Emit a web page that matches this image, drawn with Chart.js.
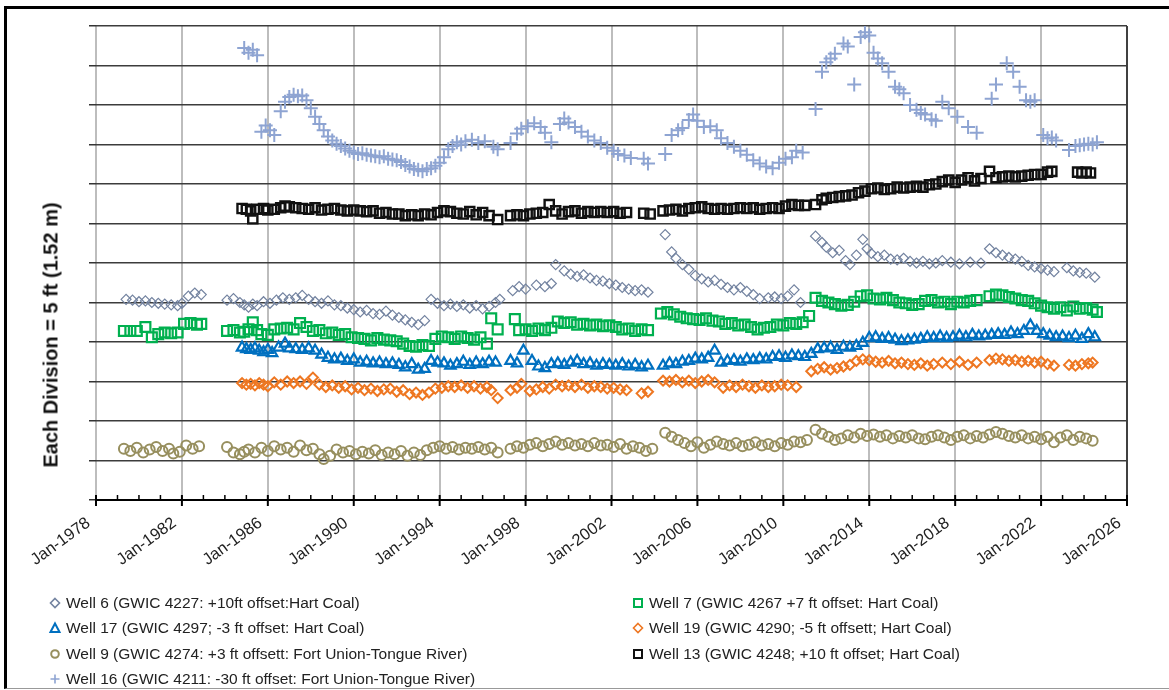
<!DOCTYPE html>
<html lang="en">
<head>
    <meta charset="UTF-8">
    <title>Well hydrographs - Hart Coal and Fort Union-Tongue River</title>
    <script src="https://cdn.jsdelivr.net/npm/chart.js"></script>
    <style>
        body {
            margin: 0;
            background: #fff;
            font-family: 'Liberation Sans', Arial, sans-serif;
            overflow: hidden;
        }

        .frame {
            position: absolute;
            left: 4px;
            top: 6px;
            width: 1180px;
            height: 679px;
            border-left: 3px solid #000;
            border-top: 3px solid #000;
            border-bottom: 1px solid #999;
        }

        .chart-box {
            position: absolute;
            left: 0;
            top: 0;
            width: 1169px;
            height: 690px;
        }

        .y-title {
            position: absolute;
            left: 51px;
            top: 335px;
            transform: translate(-50%, -50%) rotate(-90deg);
            font-weight: bold;
            font-size: 20px;
            white-space: nowrap;
            color: #111;
        }

        .legend {
            position: absolute;
            left: 48px;
            top: 590px;
            display: grid;
            grid-template-columns: 583px auto;
            grid-auto-rows: 25.5px;
            font-size: 15.5px;
            color: #222;
        }

        .legend-item {
            display: flex;
            align-items: center;
            white-space: nowrap;
        }

        .legend-item svg {
            width: 14px;
            height: 14px;
            margin-right: 4px;
        }
    </style>
</head>
<body>
    <div class="frame"></div>
    <div class="chart-box">
        <canvas id="wellChart"></canvas>
    </div>
    <div class="y-title">Each Division = 5 ft (1.52 m)</div>
    <div class="legend" id="legend"></div>

    <script>
        // x axis: decimal years, labelled every 4 years
        const tickYears = [1978, 1982, 1986, 1990, 1994, 1998, 2002, 2006, 2010, 2014, 2018, 2022, 2026];

        // Well 6 (gray diamonds)
        const w6Years = [1979.4, 1979.7, 1980.0, 1980.3, 1980.6, 1980.9, 1981.2, 1981.5, 1981.8, 1982.0, 1982.3, 1982.6, 1982.9,
            1984.1, 1984.4, 1984.7, 1984.9, 1985.1, 1985.3, 1985.5, 1985.8, 1986.1, 1986.4, 1986.7, 1987.0, 1987.3, 1987.6, 1987.9,
            1988.2, 1988.5, 1988.8, 1989.1, 1989.4, 1989.7, 1990.0, 1990.3, 1990.6, 1990.9, 1991.2, 1991.5, 1991.8, 1992.1, 1992.4,
            1992.7, 1993.0, 1993.3, 1993.6, 1993.9, 1994.2, 1994.5, 1994.8, 1995.1, 1995.4, 1995.7, 1996.0, 1996.3, 1996.6, 1996.8,
            1997.4, 1997.7, 1998.0, 1998.5, 1998.9, 1999.2, 1999.4, 1999.8, 2000.1, 2000.4, 2000.7, 2001.0, 2001.3, 2001.6, 2001.9,
            2002.2, 2002.5, 2002.8, 2003.1, 2003.4, 2003.7, 2004.5, 2004.8, 2005.0, 2005.3, 2005.6, 2005.9, 2006.2, 2006.5, 2006.8,
            2007.1, 2007.4, 2007.7, 2008.0, 2008.3, 2008.6, 2008.9, 2009.3, 2009.6, 2009.9, 2010.2, 2010.5, 2010.8, 2011.5, 2011.8,
            2012.0, 2012.3, 2012.6, 2012.9, 2013.1, 2013.4, 2013.7, 2013.9, 2014.1, 2014.4, 2014.7, 2015.0, 2015.3, 2015.6, 2015.9,
            2016.2, 2016.5, 2016.8, 2017.1, 2017.4, 2017.8, 2018.2, 2018.7, 2019.2, 2019.6, 2019.9, 2020.2, 2020.5, 2020.8, 2021.1,
            2021.4, 2021.7, 2022.0, 2022.3, 2022.6, 2023.2, 2023.5, 2023.8, 2024.1, 2024.5];
        const w6Ft = [25.4, 25.3, 25.1, 25.2, 25.0, 24.9, 24.8, 24.7, 24.6, 24.9, 25.8, 26.2, 26.0,
            25.3, 25.5, 25.0, 24.7, 24.4, 24.8, 24.6, 25.1, 24.9, 25.3, 25.6, 25.4, 25.6, 25.9, 25.4,
            25.1, 24.9, 25.2, 24.7, 24.6, 24.3, 24.1, 23.8, 24.0, 23.6, 23.5, 23.9, 23.4, 23.1, 22.8,
            22.5, 22.2, 22.7, 25.4, 24.9, 24.6, 24.8, 24.5, 24.7, 24.3, 24.6, 24.2, 24.5, 25.0, 25.4,
            26.5, 27.0, 26.7, 27.2, 27.0, 27.4, 29.8, 29.0, 28.6, 28.3, 28.5, 28.1, 27.8, 27.7, 27.4,
            27.2, 26.9, 26.7, 26.5, 26.6, 26.3, 33.6, 31.4, 30.6, 29.8, 29.2, 28.4, 28.0, 27.6, 27.8,
            27.3, 26.9, 26.6, 26.9, 26.4, 26.0, 25.5, 25.6, 25.7, 25.5, 25.8, 26.6, 25.0, 33.4, 32.6,
            32.0, 31.3, 31.6, 30.3, 29.8, 31.0, 33.0, 31.8, 31.2, 30.8, 31.0, 30.5, 30.4, 30.6, 30.2,
            30.0, 30.2, 29.9, 30.0, 30.3, 30.1, 29.9, 30.1, 30.0, 31.8, 31.3, 31.0, 30.7, 30.5, 30.2,
            29.7, 29.5, 29.3, 29.1, 28.9, 29.4, 29.0, 28.8, 28.7, 28.2];

        // Well 7 (green squares)
        const w7Years = [1979.3, 1979.6, 1979.9, 1980.3, 1980.6, 1980.9, 1981.2, 1981.5, 1981.8, 1982.1, 1982.4, 1982.7, 1982.9,
            1984.1, 1984.4, 1984.7, 1984.9, 1985.1, 1985.3, 1985.5, 1985.7, 1986.0, 1986.3, 1986.6, 1986.9, 1987.2, 1987.5, 1987.8,
            1988.1, 1988.4, 1988.7, 1989.0, 1989.3, 1989.6, 1989.9, 1990.2, 1990.5, 1990.8, 1991.1, 1991.4, 1991.7, 1992.0, 1992.3,
            1992.6, 1992.9, 1993.2, 1993.5, 1993.8, 1994.1, 1994.4, 1994.7, 1995.0, 1995.3, 1995.6, 1995.9, 1996.2, 1996.4, 1996.7,
            1997.5, 1997.7, 1998.0, 1998.3, 1998.6, 1998.9, 1999.2, 1999.5, 1999.8, 2000.1, 2000.4, 2000.7, 2001.0, 2001.3, 2001.6,
            2001.9, 2002.2, 2002.5, 2002.8, 2003.1, 2003.4, 2003.7, 2004.3, 2004.6, 2004.9, 2005.2, 2005.5, 2005.8, 2006.1, 2006.4,
            2006.7, 2007.0, 2007.3, 2007.6, 2007.9, 2008.2, 2008.5, 2008.8, 2009.1, 2009.4, 2009.7, 2010.0, 2010.3, 2010.6, 2010.9,
            2011.2, 2011.5, 2011.8, 2012.1, 2012.4, 2012.7, 2013.0, 2013.3, 2013.6, 2013.9, 2014.2, 2014.5, 2014.8, 2015.1, 2015.4,
            2015.7, 2016.0, 2016.3, 2016.6, 2016.9, 2017.2, 2017.5, 2017.8, 2018.1, 2018.4, 2018.7, 2019.0, 2019.6, 2019.9, 2020.2,
            2020.5, 2020.8, 2021.1, 2021.4, 2021.7, 2022.0, 2022.3, 2022.6, 2022.9, 2023.2, 2023.5, 2023.8, 2024.1, 2024.4, 2024.6];
        const w7Ft = [21.4, 21.4, 21.4, 21.9, 20.6, 21.0, 21.2, 21.1, 21.2, 22.3, 22.4, 22.2, 22.3,
            21.4, 21.5, 21.2, 21.3, 21.6, 22.5, 21.5, 21.0, 20.9, 21.6, 21.7, 21.8, 21.6, 22.4, 21.9,
            21.4, 21.5, 21.1, 21.2, 20.9, 21.0, 20.6, 20.5, 20.4, 20.2, 20.5, 20.3, 20.2, 20.1, 19.8,
            19.5, 19.4, 19.6, 19.5, 20.4, 20.7, 20.6, 20.4, 20.7, 20.5, 20.3, 20.6, 19.8, 23.0, 21.6,
            22.9, 21.5, 21.6, 21.4, 21.7, 21.5, 21.8, 22.6, 22.4, 22.5, 22.2, 22.3, 22.1, 22.2, 22.0,
            22.1, 21.9, 21.6, 21.7, 21.4, 21.6, 21.5, 23.6, 23.8, 23.5, 23.2, 23.0, 22.9, 22.8, 23.0,
            22.7, 22.6, 22.3, 22.4, 22.1, 22.2, 21.9, 21.6, 21.8, 21.9, 22.2, 22.1, 22.4, 22.3, 22.5,
            23.3, 25.6, 25.2, 25.0, 24.8, 24.6, 24.7, 25.1, 25.8, 25.9, 25.5, 25.4, 25.6, 25.3, 25.0,
            24.9, 24.7, 24.8, 25.2, 25.3, 25.0, 25.1, 24.8, 25.1, 25.0, 25.2, 25.3, 25.8, 26.0, 25.9,
            25.7, 25.5, 25.3, 25.2, 24.9, 24.6, 24.4, 24.2, 24.4, 24.0, 24.5, 24.2, 24.3, 24.1, 23.8];

        // Well 17 (blue triangles)
        const w17Years = [1984.8, 1985.0, 1985.2, 1985.4, 1985.6, 1985.8, 1986.0, 1986.2, 1986.5, 1986.8, 1987.0, 1987.3, 1987.6,
            1987.9, 1988.2, 1988.5, 1988.8, 1989.1, 1989.4, 1989.7, 1990.0, 1990.3, 1990.6, 1990.9, 1991.2, 1991.5, 1991.8, 1992.1,
            1992.4, 1992.7, 1993.0, 1993.3, 1993.6, 1993.9, 1994.2, 1994.5, 1994.8, 1995.1, 1995.4, 1995.7, 1996.0, 1996.3, 1996.6,
            1997.3, 1997.6, 1997.9, 1998.3, 1998.6, 1998.9, 1999.2, 1999.5, 1999.8, 2000.1, 2000.4, 2000.7, 2001.0, 2001.3, 2001.6,
            2001.9, 2002.2, 2002.5, 2002.8, 2003.1, 2003.4, 2003.7, 2004.4, 2004.7, 2005.0, 2005.3, 2005.6, 2005.9, 2006.2, 2006.5,
            2006.8, 2007.1, 2007.4, 2007.7, 2008.0, 2008.3, 2008.6, 2008.9, 2009.2, 2009.5, 2009.8, 2010.1, 2010.4, 2010.7, 2011.0,
            2011.3, 2011.6, 2011.9, 2012.2, 2012.5, 2012.8, 2013.1, 2013.4, 2013.7, 2014.0, 2014.3, 2014.6, 2014.9, 2015.2, 2015.5,
            2015.8, 2016.1, 2016.4, 2016.7, 2017.0, 2017.3, 2017.6, 2017.9, 2018.2, 2018.5, 2018.8, 2019.1, 2019.4, 2019.7, 2020.0,
            2020.3, 2020.6, 2020.9, 2021.2, 2021.5, 2021.8, 2022.1, 2022.4, 2022.7, 2023.0, 2023.3, 2023.6, 2023.9, 2024.2, 2024.5];
        const w17Ft = [19.3, 19.1, 19.0, 19.2, 18.9, 18.7, 19.0, 18.6, 19.3, 19.8, 19.2, 19.1, 19.0,
            19.2, 18.9, 18.4, 18.0, 17.8, 17.9, 17.6, 17.8, 17.4, 17.5, 17.3, 17.4, 17.2, 17.3, 17.1,
            16.8, 17.2, 16.5, 16.6, 17.6, 17.4, 17.3, 17.0, 17.2, 17.5, 17.1, 17.4, 17.2, 17.5, 17.4,
            17.6, 17.3, 18.9, 17.6, 16.9, 16.7, 17.2, 17.3, 17.1, 17.4, 17.6, 17.2, 17.3, 17.0, 17.2,
            17.1, 17.0, 17.2, 16.9, 17.1, 16.8, 17.0, 17.0, 17.3, 17.2, 17.5, 17.6, 17.9, 17.8, 18.0,
            18.9, 17.4, 17.6, 17.7, 17.5, 17.8, 17.7, 17.9, 17.8, 18.1, 18.2, 18.0, 18.3, 18.2, 18.1,
            18.5, 19.1, 19.2, 19.3, 19.0, 19.4, 19.3, 19.5, 19.9, 20.5, 20.6, 20.4, 20.5, 20.3, 20.1,
            20.2, 20.3, 20.4, 20.6, 20.5, 20.7, 20.5, 20.6, 20.8, 20.6, 20.9, 20.7, 20.8, 20.9, 21.0,
            20.9, 21.2, 21.0, 21.4, 22.1, 21.4, 21.0, 20.8, 20.6, 20.7, 20.5, 20.8, 20.4, 21.0, 20.6];

        // Well 19 (orange diamonds)
        const w19Years = [1984.8, 1985.0, 1985.2, 1985.4, 1985.6, 1985.8, 1986.0, 1986.3, 1986.6, 1986.9, 1987.2, 1987.5, 1987.8,
            1988.1, 1988.4, 1988.7, 1989.0, 1989.3, 1989.6, 1989.9, 1990.2, 1990.5, 1990.8, 1991.1, 1991.4, 1991.7, 1992.0, 1992.3,
            1992.6, 1992.9, 1993.2, 1993.5, 1993.8, 1994.1, 1994.4, 1994.7, 1995.0, 1995.3, 1995.6, 1995.9, 1996.2, 1996.4, 1996.7,
            1997.3, 1997.6, 1997.8, 1998.2, 1998.5, 1998.8, 1999.1, 1999.4, 1999.7, 2000.0, 2000.3, 2000.6, 2000.9, 2001.2, 2001.5,
            2001.8, 2002.1, 2002.4, 2002.7, 2003.4, 2003.7, 2004.4, 2004.7, 2005.0, 2005.3, 2005.6, 2005.9, 2006.2, 2006.5, 2006.8,
            2007.2, 2007.5, 2007.8, 2008.1, 2008.4, 2008.7, 2009.0, 2009.3, 2009.6, 2009.9, 2010.2, 2010.6, 2011.3, 2011.6, 2011.9,
            2012.2, 2012.5, 2012.8, 2013.1, 2013.4, 2013.7, 2014.0, 2014.3, 2014.6, 2014.9, 2015.2, 2015.5, 2015.8, 2016.1, 2016.4,
            2016.7, 2017.0, 2017.4, 2017.8, 2018.2, 2018.6, 2019.0, 2019.6, 2019.9, 2020.2, 2020.5, 2020.8, 2021.1, 2021.4, 2021.7,
            2022.0, 2022.3, 2022.6, 2023.3, 2023.6, 2023.9, 2024.2, 2024.4];
        const w19Ft = [14.8, 14.6, 14.7, 14.5, 14.8, 14.6, 14.4, 14.9, 14.6, 15.0, 14.8, 15.0, 14.7,
            15.5, 14.6, 14.3, 14.5, 14.2, 14.4, 14.0, 14.2, 13.9, 14.1, 13.8, 14.0, 14.1, 13.7, 13.9,
            13.4, 13.6, 13.3, 13.6, 14.1, 14.2, 14.4, 14.3, 14.5, 14.2, 14.4, 14.1, 14.3, 13.9, 12.9,
            13.9, 14.2, 14.7, 13.8, 14.0, 14.3, 14.1, 14.6, 14.4, 14.5, 14.3, 14.6, 14.2, 14.4, 14.3,
            14.1, 14.2, 14.0, 13.9, 13.5, 13.7, 15.1, 15.0, 15.2, 14.9, 15.1, 14.8, 15.0, 15.2, 14.9,
            14.2, 14.5, 14.3, 14.6, 14.4, 14.2, 14.5, 14.3, 14.4, 14.6, 14.5, 14.3, 16.3, 16.6, 16.8,
            16.5, 16.7, 16.9, 17.1, 17.6, 17.8, 17.7, 17.5, 17.4, 17.6, 17.3, 17.4, 17.2, 17.1, 17.3,
            17.0, 17.2, 17.4, 17.2, 17.5, 17.1, 17.4, 17.7, 17.9, 17.8, 17.6, 17.7, 17.5, 17.6, 17.4,
            17.5, 17.2, 17.0, 17.1, 17.0, 17.2, 17.3, 17.4];

        // Well 9 (olive circles)
        const w9Years = [1979.3, 1979.6, 1979.9, 1980.2, 1980.5, 1980.8, 1981.1, 1981.4, 1981.6, 1981.9, 1982.2, 1982.5, 1982.8,
            1984.1, 1984.4, 1984.7, 1984.9, 1985.1, 1985.4, 1985.7, 1986.0, 1986.3, 1986.6, 1986.9, 1987.2, 1987.5, 1987.8, 1988.1,
            1988.4, 1988.6, 1988.9, 1989.2, 1989.5, 1989.8, 1990.1, 1990.4, 1990.7, 1991.0, 1991.3, 1991.6, 1991.9, 1992.2, 1992.5,
            1992.8, 1993.1, 1993.4, 1993.7, 1994.0, 1994.3, 1994.6, 1994.9, 1995.2, 1995.5, 1995.8, 1996.1, 1996.4, 1996.7, 1997.3,
            1997.6, 1997.9, 1998.2, 1998.5, 1998.8, 1999.1, 1999.4, 1999.7, 2000.0, 2000.3, 2000.6, 2000.9, 2001.2, 2001.5, 2001.8,
            2002.1, 2002.4, 2002.7, 2003.0, 2003.3, 2003.6, 2003.9, 2004.5, 2004.8, 2005.1, 2005.4, 2005.7, 2006.0, 2006.3, 2006.6,
            2006.9, 2007.2, 2007.5, 2007.8, 2008.1, 2008.4, 2008.7, 2009.0, 2009.3, 2009.6, 2009.9, 2010.2, 2010.5, 2010.8, 2011.1,
            2011.5, 2011.8, 2012.1, 2012.4, 2012.7, 2013.0, 2013.3, 2013.6, 2013.9, 2014.2, 2014.5, 2014.8, 2015.1, 2015.4, 2015.7,
            2016.0, 2016.3, 2016.6, 2016.9, 2017.2, 2017.5, 2017.8, 2018.1, 2018.4, 2018.7, 2019.0, 2019.3, 2019.6, 2019.9, 2020.2,
            2020.5, 2020.8, 2021.1, 2021.4, 2021.7, 2022.0, 2022.3, 2022.6, 2022.9, 2023.2, 2023.5, 2023.8, 2024.1, 2024.4];
        const w9Ft = [6.5, 6.2, 6.6, 6.0, 6.4, 6.7, 6.2, 6.5, 5.9, 6.1, 6.9, 6.5, 6.8,
            6.7, 6.0, 5.8, 6.1, 6.4, 6.0, 6.6, 6.2, 6.8, 6.4, 6.6, 6.1, 6.9, 6.3, 6.5,
            5.8, 5.2, 5.6, 6.4, 6.0, 6.2, 5.8, 6.1, 5.9, 6.3, 5.7, 6.0, 5.8, 6.2, 5.6,
            6.0, 5.7, 6.3, 6.6, 6.8, 6.5, 6.7, 6.4, 6.6, 6.5, 6.7, 6.4, 6.6, 6.0, 6.5,
            6.8, 6.6, 7.0, 7.2, 6.8, 7.1, 7.4, 7.0, 7.2, 6.9, 7.1, 6.8, 7.2, 6.9, 7.0,
            6.7, 7.1, 6.5, 6.8, 6.6, 6.2, 6.5, 8.5, 8.0, 7.6, 7.2, 6.8, 7.3, 6.6, 7.0,
            7.4, 7.1, 6.9, 7.2, 6.8, 7.0, 7.3, 6.9, 7.1, 6.8, 7.2, 7.0, 7.4, 7.3, 7.6,
            8.9, 8.4, 8.0, 7.6, 7.8, 8.2, 7.9, 8.4, 8.1, 8.3, 8.0, 8.2, 7.8, 8.1, 7.9,
            8.2, 7.8, 7.7, 8.0, 8.2, 7.9, 7.6, 8.0, 8.2, 7.8, 8.1, 7.9, 8.3, 8.6, 8.4,
            8.1, 7.9, 8.2, 7.8, 8.0, 7.7, 8.0, 7.3, 7.9, 8.2, 7.6, 8.0, 7.8, 7.5];

        // Well 13 (black squares)
        const w13Years = [1984.8, 1985.0, 1985.2, 1985.3, 1985.5, 1985.8, 1986.0, 1986.3, 1986.6, 1986.8, 1987.0, 1987.3, 1987.6,
            1987.9, 1988.2, 1988.5, 1988.8, 1989.1, 1989.4, 1989.7, 1990.0, 1990.3, 1990.6, 1990.9, 1991.2, 1991.5, 1991.8, 1992.1,
            1992.4, 1992.7, 1993.0, 1993.3, 1993.6, 1993.9, 1994.2, 1994.5, 1994.8, 1995.1, 1995.4, 1995.7, 1996.0, 1996.3, 1996.7,
            1997.3, 1997.6, 1997.9, 1998.2, 1998.5, 1998.8, 1999.1, 1999.4, 1999.7, 2000.0, 2000.3, 2000.6, 2000.9, 2001.2, 2001.5,
            2001.8, 2002.1, 2002.4, 2002.7, 2003.5, 2003.8, 2004.4, 2004.7, 2005.0, 2005.3, 2005.6, 2005.9, 2006.2, 2006.5, 2006.8,
            2007.1, 2007.4, 2007.7, 2008.0, 2008.3, 2008.6, 2008.9, 2009.2, 2009.5, 2009.8, 2010.1, 2010.4, 2010.7, 2011.0, 2011.5,
            2011.8, 2012.0, 2012.3, 2012.6, 2012.9, 2013.2, 2013.5, 2013.8, 2014.1, 2014.4, 2014.7, 2015.0, 2015.3, 2015.6, 2015.9,
            2016.2, 2016.5, 2016.8, 2017.1, 2017.4, 2017.7, 2018.0, 2018.3, 2018.6, 2018.9, 2019.2, 2019.6, 2019.9, 2020.2, 2020.5,
            2020.8, 2021.1, 2021.4, 2021.7, 2022.0, 2022.3, 2022.5, 2023.7, 2023.9, 2024.1, 2024.3];
        const w13Ft = [36.9, 36.8, 36.6, 35.6, 36.8, 36.9, 36.7, 36.8, 37.0, 37.2, 37.1, 37.0, 36.9,
            36.8, 37.0, 36.7, 36.8, 36.9, 36.7, 36.6, 36.7, 36.6, 36.5, 36.6, 36.3, 36.4, 36.2, 36.2,
            36.0, 36.1, 36.0, 36.2, 36.1, 36.4, 36.6, 36.5, 36.3, 36.2, 36.5, 36.1, 36.4, 36.0, 35.5,
            36.0, 36.1, 36.0, 36.2, 36.3, 36.4, 37.4, 36.6, 36.2, 36.5, 36.6, 36.3, 36.5, 36.4, 36.5,
            36.4, 36.5, 36.3, 36.4, 36.3, 36.2, 36.6, 36.7, 36.8, 36.6, 36.9, 37.0, 37.1, 36.9, 36.8,
            36.9, 36.8, 36.9, 37.0, 36.9, 37.0, 36.8, 36.9, 37.0, 36.9, 37.2, 37.4, 37.3, 37.3, 37.4,
            38.0, 38.2, 38.3, 38.4, 38.5, 38.6, 38.9, 39.1, 39.4, 39.5, 39.3, 39.4, 39.6, 39.5, 39.6,
            39.7, 39.6, 39.9, 40.0, 40.3, 40.5, 40.2, 40.5, 40.8, 40.4, 40.7, 41.6, 40.8, 40.9, 41.0,
            40.9, 41.0, 41.1, 41.2, 41.2, 41.5, 41.6, 41.5, 41.4, 41.5, 41.4];

        // Well 16 (light blue crosses)
        const w16Years = [1984.9, 1985.1, 1985.3, 1985.5, 1985.7, 1985.9, 1986.1, 1986.3, 1986.6, 1986.8, 1987.0, 1987.2, 1987.4,
            1987.6, 1987.8, 1988.0, 1988.2, 1988.4, 1988.6, 1988.8, 1989.0, 1989.2, 1989.4, 1989.6, 1989.8, 1990.0, 1990.2, 1990.4,
            1990.6, 1990.8, 1991.0, 1991.2, 1991.4, 1991.6, 1991.8, 1992.0, 1992.2, 1992.4, 1992.6, 1992.8, 1993.0, 1993.2, 1993.4,
            1993.6, 1993.8, 1994.0, 1994.2, 1994.4, 1994.6, 1994.8, 1995.0, 1995.2, 1995.5, 1995.8, 1996.1, 1996.5, 1996.7, 1997.3,
            1997.6, 1997.8, 1998.1, 1998.4, 1998.7, 1998.9, 1999.2, 1999.6, 1999.8, 2000.0, 2000.3, 2000.6, 2000.9, 2001.2, 2001.5,
            2001.8, 2002.1, 2002.3, 2002.6, 2002.9, 2003.5, 2003.7, 2004.5, 2004.8, 2005.1, 2005.3, 2005.6, 2005.8, 2006.0, 2006.3,
            2006.6, 2006.9, 2007.1, 2007.4, 2007.7, 2008.0, 2008.3, 2008.6, 2008.9, 2009.2, 2009.5, 2009.8, 2010.1, 2010.4, 2010.6,
            2010.9, 2011.5, 2011.8, 2012.0, 2012.2, 2012.4, 2012.8, 2013.0, 2013.3, 2013.6, 2013.8, 2014.0, 2014.2, 2014.4, 2014.6,
            2014.9, 2015.2, 2015.4, 2015.6, 2015.9, 2016.2, 2016.4, 2016.6, 2016.9, 2017.1, 2017.4, 2017.7, 2018.1, 2018.6, 2019.0,
            2019.7, 2019.9, 2020.4, 2020.7, 2021.0, 2021.3, 2021.5, 2021.7, 2022.1, 2022.3, 2022.5, 2022.7, 2023.3, 2023.6, 2023.8,
            2024.0, 2024.2, 2024.4, 2024.6];
        const w16Ft = [57.2, 56.6, 57.0, 56.3, 46.6, 47.4, 46.8, 46.2, 49.2, 50.4, 51.0, 51.3, 51.1,
            51.2, 50.6, 49.6, 48.5, 47.6, 46.8, 46.0, 45.5, 45.1, 44.8, 44.5, 44.2, 44.0, 43.8, 43.9,
            43.7, 43.6, 43.5, 43.4, 43.5, 43.2, 43.1, 43.0, 42.8, 42.4, 42.2, 41.9, 41.8, 41.6, 41.9,
            42.0, 42.3, 42.7, 43.4, 44.4, 44.8, 45.3, 45.0, 45.4, 45.6, 45.2, 45.4, 44.7, 44.4, 45.2,
            46.4, 47.0, 47.3, 47.7, 47.2, 46.5, 45.3, 47.6, 48.3, 47.8, 47.2, 46.6, 46.0, 45.5, 45.2,
            44.6, 44.2, 43.8, 43.6, 43.3, 43.2, 42.6, 43.8, 46.2, 46.8, 47.1, 48.1, 48.8, 48.0, 47.2,
            47.3, 46.8, 45.8, 45.2, 44.7, 44.2, 43.7, 43.0, 42.6, 42.2, 42.0, 42.7, 43.2, 43.4, 44.2,
            44.0, 49.5, 54.2, 55.4, 55.9, 56.5, 57.8, 57.4, 52.6, 58.6, 59.2, 58.8, 56.6, 55.9, 55.3,
            54.2, 52.3, 52.0, 51.5, 50.0, 49.4, 49.0, 48.8, 48.2, 48.0, 50.4, 49.6, 48.5, 47.2, 46.5,
            50.8, 52.6, 55.3, 54.2, 52.3, 50.6, 50.4, 50.6, 46.2, 45.8, 45.9, 45.5, 44.3, 44.8, 44.9,
            45.0, 45.1, 45.0, 45.3];

        const wells = [
            { name: 'Well 6 (GWIC 4227: +10ft offset:Hart Coal)', years: w6Years, ft: w6Ft,
              style: 'rectRot', color: '#7383A0', radius: 5, width: 1.2 },
            { name: 'Well 7 (GWIC 4267 +7 ft offset: Hart Coal)', years: w7Years, ft: w7Ft,
              style: 'rect', color: '#00B04F', radius: 7, width: 2.2 },
            { name: 'Well 17 (GWIC 4297; -3 ft offset: Hart Coal)', years: w17Years, ft: w17Ft,
              style: 'triangle', color: '#0070C0', radius: 6, width: 2.2 },
            { name: 'Well 19 (GWIC 4290; -5 ft offsett; Hart Coal)', years: w19Years, ft: w19Ft,
              style: 'rectRot', color: '#EE7722', radius: 5, width: 2 },
            { name: 'Well 9 (GWIC 4274: +3 ft offsett: Fort Union-Tongue River)', years: w9Years, ft: w9Ft,
              style: 'circle', color: '#978F5E', radius: 5, width: 2 },
            { name: 'Well 13 (GWIC 4248; +10 ft offset; Hart Coal)', years: w13Years, ft: w13Ft,
              style: 'rect', color: '#111111', radius: 6.5, width: 2.4 },
            { name: 'Well 16 (GWIC 4211: -30 ft offset: Fort Union-Tongue River)', years: w16Years, ft: w16Ft,
              style: 'cross', color: '#8EA4D2', radius: 7, width: 2 }
        ];

        // minor (yearly) and major (4-yearly) tick marks on the date axis
        const dateTicks = {
            id: 'dateTicks',
            afterDraw(chart) {
                const x = chart.scales.x;
                const ctx = chart.ctx;
                const bottom = chart.chartArea.bottom;
                ctx.save();
                ctx.strokeStyle = '#000';
                for (let yr = x.min; yr <= x.max; yr++) {
                    const px = x.getPixelForValue(yr);
                    const major = tickYears.includes(yr);
                    ctx.lineWidth = major ? 2 : 1.5;
                    ctx.beginPath();
                    ctx.moveTo(px, bottom - 5);
                    ctx.lineTo(px, major ? bottom + 6 : bottom);
                    ctx.stroke();
                }
                ctx.restore();
            }
        };

        const ctx = document.getElementById('wellChart').getContext('2d');
        new Chart(ctx, {
            type: 'scatter',
            data: {
                datasets: wells.map(w => ({
                    label: w.name,
                    data: w.years.map((yr, i) => ({ x: yr, y: w.ft[i] })),
                    pointStyle: w.style,
                    pointRadius: w.radius,
                    pointBorderWidth: w.width,
                    borderColor: w.color,
                    backgroundColor: 'rgba(0,0,0,0)',
                    pointBackgroundColor: 'rgba(0,0,0,0)',
                    showLine: false
                }))
            },
            options: {
                responsive: true,
                maintainAspectRatio: false,
                animation: false,
                layout: { padding: { left: 0, top: 26, right: 42, bottom: 0 } },
                plugins: {
                    legend: { display: false },
                    tooltip: { enabled: false }
                },
                scales: {
                    x: {
                        type: 'linear',
                        min: 1978,
                        max: 2026,
                        afterBuildTicks: scale => { scale.ticks = tickYears.map(v => ({ value: v })); },
                        afterFit: scale => { scale.height = 190; },
                        ticks: {
                            autoSkip: false,
                            minRotation: 36,
                            maxRotation: 36,
                            padding: 8,
                            color: '#222',
                            font: { family: "'Liberation Sans', Arial, sans-serif", size: 16.5 },
                            // two trailing spaces pull each rotated label a little down-left of its tick
                            callback: v => 'Jan-' + v + '  '
                        },
                        grid: {
                            drawTicks: false,
                            color: c => (c.tick && c.tick.value === 2026) ? '#404040' : '#BDBDBD',
                            lineWidth: 2
                        },
                        border: { display: true, color: '#000', width: 2 }
                    },
                    y: {
                        min: 0,
                        max: 60,
                        afterFit: scale => { scale.width = 96; },
                        ticks: { stepSize: 5, display: false },
                        grid: {
                            color: '#3C3C3C',
                            lineWidth: 1.5,
                            drawTicks: true,
                            tickLength: 7,
                            tickColor: '#333'
                        },
                        border: { display: false }
                    }
                }
            },
            plugins: [dateTicks]
        });

        // two-column legend under the axis
        const markerSvg = {
            rectRot: c => `<polygon points="7,2.5 11.5,7 7,11.5 2.5,7" fill="none" stroke="${c}" stroke-width="1.6"/>`,
            rect: c => `<rect x="3" y="3" width="8" height="8" fill="none" stroke="${c}" stroke-width="2"/>`,
            triangle: c => `<polygon points="7,2.5 11.5,11 2.5,11" fill="none" stroke="${c}" stroke-width="2"/>`,
            circle: c => `<circle cx="7" cy="7" r="3.8" fill="none" stroke="${c}" stroke-width="2"/>`,
            cross: c => `<path d="M7 2.5 V11.5 M2.5 7 H11.5" stroke="${c}" stroke-width="1.6"/>`
        };
        document.getElementById('legend').innerHTML = wells.map(w =>
            `<div class="legend-item"><svg viewBox="0 0 14 14">${markerSvg[w.style](w.color)}</svg><span>${w.name}</span></div>`
        ).join('');
    </script>
</body>
</html>
